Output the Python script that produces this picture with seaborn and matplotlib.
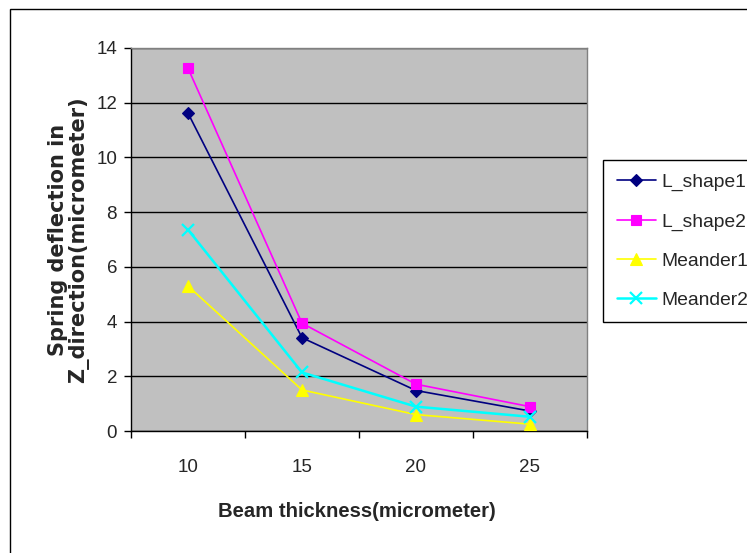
import matplotlib
matplotlib.use("Agg")
import matplotlib.pyplot as plt
from matplotlib.patches import Rectangle
from matplotlib.ticker import FixedLocator
import seaborn as sns
import pandas as pd

# Beam thickness (micrometer) and spring deflection in Z (micrometer)
thickness = [10, 15, 20, 25]
l_shape1 = [11.62, 3.41, 1.48, 0.73]
l_shape2 = [13.26, 3.94, 1.71, 0.89]
meander1 = [5.30, 1.50, 0.60, 0.25]
meander2 = [7.36, 2.14, 0.89, 0.52]
series_names = ["L_shape1", "L_shape2", "Meander1", "Meander2"]
y_ticks = [0, 2, 4, 6, 8, 10, 12, 14]

sns.set_style("ticks")
sans = ["Liberation Sans", "DejaVu Sans"]
plt.rcParams["font.family"] = sans

W, H = 747, 553
fig = plt.figure(figsize=(W / 100, H / 100), dpi=100)
fig.patch.set_facecolor("white")
ax = fig.add_axes([131 / W, 1 - 431 / H, (587 - 131) / W, (431 - 48) / H])
ax.set_facecolor("#C0C0C0")

styles = {
    "L_shape1": dict(color="#000080", marker="D", markersize=6.5, lw=1.2),
    "L_shape2": dict(color="#FF00FF", marker="s", markersize=7, lw=1.2),
    "Meander1": dict(color="#FFFF00", marker="^", markersize=8.5, lw=1.2),
    "Meander2": dict(color="#00FFFF", marker="x", markersize=8, lw=1.8),
}
values = dict(zip(series_names, [l_shape1, l_shape2, meander1, meander2]))

for name in series_names:
    st = styles[name]
    df = pd.DataFrame({"thickness": thickness, "deflection": values[name]})
    sns.lineplot(
        data=df, x="thickness", y="deflection", ax=ax, label=name,
        color=st["color"], marker=st["marker"], markersize=st["markersize"],
        linewidth=st["lw"], markeredgecolor=st["color"],
        markeredgewidth=1.6 if st["marker"] == "x" else 0.8, zorder=3,
    )

# axis ranges and ticks: categories centred between boundary ticks
ax.set_xlim(7.5, 27.5)
ax.set_ylim(0, 14)
ax.set_yticks(y_ticks)
ax.set_xticks(thickness)
ax.xaxis.set_minor_locator(FixedLocator([7.5, 12.5, 17.5, 22.5, 27.5]))
ax.tick_params(axis="x", which="major", length=0, pad=20, labelsize=13.5)
ax.tick_params(axis="x", which="minor", length=5, width=1, color="black", direction="out")
ax.tick_params(axis="y", length=5, width=1, color="black", direction="out", pad=5, labelsize=13.5)

ax.grid(axis="y", color="black", linewidth=1)
ax.grid(axis="x", visible=False)
ax.set_axisbelow(True)
for side in ["left", "bottom"]:
    ax.spines[side].set_color("black")
    ax.spines[side].set_linewidth(1)
for side in ["top", "right"]:
    ax.spines[side].set_visible(True)
    ax.spines[side].set_color("#808080")
    ax.spines[side].set_linewidth(1)

ax.set_xlabel("Beam thickness(micrometer)", fontsize=14.6, fontweight="bold")
ax.xaxis.set_label_coords((357 - 131) / 456, (431 - 502) / 383)
ax.set_ylabel("Spring deflection in\nZ_direction(micrometer)", fontsize=15,
              fontweight="bold", family=["DejaVu Sans"], linespacing=1.0)
ax.yaxis.set_label_coords((89 - 131) / 456, 0.5)

leg = ax.legend(
    loc="upper left", bbox_to_anchor=(603 / W, 1 - 160 / H), bbox_transform=fig.transFigure,
    frameon=True, fancybox=False, edgecolor="black", framealpha=1, facecolor="white",
    prop={"family": sans, "size": 13.9}, handlelength=2.05, handletextpad=0.26,
    borderpad=0.7, labelspacing=1.12, borderaxespad=0,
)
leg.get_frame().set_linewidth(1)

# outer chart border, running past the right and bottom edges
fig.patches.append(Rectangle((10 / W, -0.1), 1.2, 1.1 - 9 / H,
                             transform=fig.transFigure, fill=False, edgecolor="black",
                             linewidth=1, figure=fig))

fig.savefig("out.png", dpi=100)
